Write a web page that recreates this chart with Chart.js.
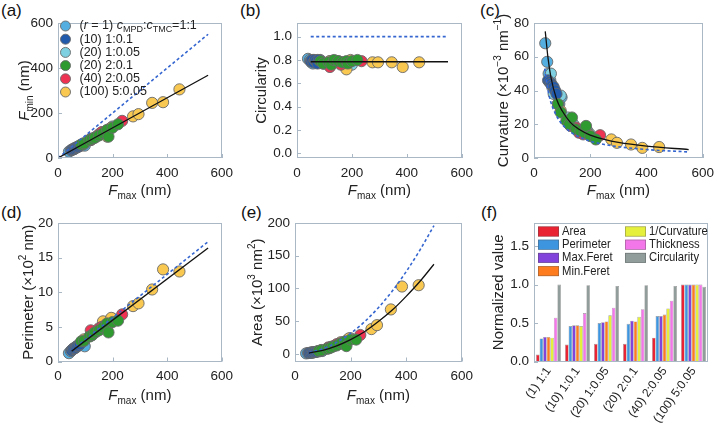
<!DOCTYPE html>
<html><head><meta charset="utf-8">
<script src="https://cdn.jsdelivr.net/npm/chart.js@4.4.0/dist/chart.umd.min.js"></script>
<style>
html,body{margin:0;padding:0;background:#fff;}
body{width:721px;height:423px;position:relative;overflow:hidden;font-family:"Liberation Sans",Arial,sans-serif;}
canvas{position:absolute;}
.lab{position:absolute;font-size:17px;color:#111;line-height:20px;}
</style></head><body>
<div class="lab" style="left:1px;top:1px">(a)</div>
<div class="lab" style="left:240px;top:1px">(b)</div>
<div class="lab" style="left:480px;top:1px">(c)</div>
<div class="lab" style="left:1px;top:203px">(d)</div>
<div class="lab" style="left:241px;top:203px">(e)</div>
<div class="lab" style="left:481px;top:203px">(f)</div>
<canvas id="ca"></canvas><canvas id="cb"></canvas><canvas id="cc"></canvas>
<canvas id="cd"></canvas><canvas id="ce"></canvas><canvas id="cf"></canvas>
<script>
// ---------- data ----------
const seriesLabels = ['(r = 1) cMPD:cTMC=1:1','(10) 1:0.1','(20) 1:0.05','(20) 2:0.1','(40) 2:0.05','(100) 5:0.05'];
const Fmax = [
  [40,47,52,58,65,75,90,98],
  [50,55,60,65,70,75,80],
  [60,70,85,95,120,140,190,200],
  [85,95,115,125,135,150,165,180,185,200,220],
  [120,130,150,160,175,235],
  [95,120,165,180,195,275,295,345,385,445]
];
const Fmin = [
  [28,34,38,42,46,52,58,55],
  [35,38,40,44,48,50,55],
  [42,48,55,62,80,95,130,140],
  [60,65,80,85,90,100,110,125,95,135,150],
  [80,88,105,115,120,165],
  [65,85,115,95,135,185,195,245,248,305]
];
const Circ = [
  [0.81,0.80,0.78,0.77,0.79,0.80,0.78,0.77],
  [0.79,0.80,0.78,0.80,0.79,0.77,0.80],
  [0.80,0.78,0.80,0.77,0.79,0.78,0.78,0.76],
  [0.79,0.77,0.78,0.76,0.80,0.79,0.78,0.79,0.77,0.79,0.80],
  [0.74,0.78,0.79,0.76,0.78,0.79],
  [0.78,0.79,0.78,0.72,0.80,0.78,0.78,0.78,0.74,0.78]
];
const Curv = [
  [68,57,50,46,42,38,32,36],
  [46,45,44,43,42,40,38],
  [50,38,32,37,24,20,16,14],
  [32,27,22,20,24,17,16,15,19,13,11],
  [22,19,18,15,14,13.5],
  [28,22,16,15,14,11,9,8,6,6.5]
];
const Perim = [
  [1.2,1.5,1.7,1.9,2.1,2.4,2.8,2.2],
  [1.6,1.8,1.9,2.0,2.2,2.3,2.5],
  [1.9,2.2,2.7,3.0,3.7,4.3,6.0,6.2],
  [2.9,3.0,3.6,3.8,4.2,4.5,4.9,5.5,4.2,5.7,5.9],
  [4.5,4.0,4.8,5.0,5.3,6.8],
  [3.2,3.8,5.8,4.8,6.3,8.0,8.4,10.4,13.3,13.0]
];
const Area = [
  [0.9,1.3,1.6,2.0,2.5,3.2,4.2,4.5],
  [1.5,1.8,2.1,2.5,2.9,3.2,3.6],
  [2,2.8,4.5,5.5,8.5,12,22,24],
  [4.5,5.5,8,9,11,13,16,19,12,22,22],
  [10,11,15,16,18,29],
  [6,9,18,14,24,38,44,68,103,105]
];
// fit (solid) and ideal-circle (dashed) curves
const fitA_x=[0,550], fitA_y=[0,368], idA_x=[0,550], idA_y=[0,550];
const fitB_x=[50,550], fitB_y=[0.785,0.785], idB_x=[50,550], idB_y=[1,1];
const fitC_x=[40,50,60,80,100,130,160,200,250,300,400,550], fitC_y=[75,59,48,35,28,21,17,13.5,11,9.2,7,5];
const idC_x=[38,50,60,80,100,130,160,200,250,300,400,550], idC_y=[53,40,33,25,20,15.4,12.5,10,8,6.7,5,3.6];
const fitD_x=[50,550], fitD_y=[1.5,16.4], idD_x=[50,550], idD_y=[1.6,17.3];
const fitE_x=[50,100,150,200,250,300,350,400,450,500], fitE_y=[1.4,5.5,12.4,22,34,49.5,67,88,111,137];
const idE_x=[50,100,150,200,250,300,350,400,450,500], idE_y=[2,7.9,17.7,31.4,49,70.7,96,125.7,159,196];
// bar chart (f)
const barCats = ['(1) 1:1','(10) 1:0.1','(20) 1:0.05','(20) 2:0.1','(40) 2:0.05','(100) 5:0.05'];
const barSeries = ['Area','Perimeter','Max.Feret','Min.Feret','1/Curvature','Thickness','Circularity'];
const nArea    = [0.09,0.22,0.23,0.23,0.31,1.00];
const nPerim   = [0.30,0.46,0.50,0.49,0.59,1.00];
const nMaxF    = [0.32,0.47,0.51,0.53,0.59,1.00];
const nMinF    = [0.32,0.47,0.52,0.52,0.61,1.00];
const nInvCurv = [0.31,0.46,0.60,0.58,0.69,1.00];
const nThick   = [0.57,0.63,0.70,0.68,0.79,1.00];
const nCirc    = [1.00,0.99,0.98,0.99,0.98,0.97];
const xTicks=[0,200,400,600];

// ---------- styles ----------
const seriesColors=['#55aee0','#2159ab','#7fd0e0','#2e9a30','#ee3352','#f8c851'];
const seriesOrder=[16,13,15,11,12,14]; // lower = drawn on top
const barColors=['#ea2333','#3d95e0','#8243dc','#ff7c1e','#e5f03d','#f477e9','#909d9b'];
const FONT='"Liberation Sans", Arial, sans-serif';
const FRAME='#a9b8c4';
const TXT='#222';
const DECO={};

function richFont(s,size){return (s.it?'italic ':'')+((s.sub||s.sup)?Math.round(size*0.68):size)+'px '+FONT;}
function drawRich(ctx,segs,cx,cy,size,rot,align,sx){
  ctx.save();ctx.translate(cx,cy);if(rot)ctx.rotate(-Math.PI/2);if(sx)ctx.scale(sx,1);
  let w=0;segs.forEach(s=>{ctx.font=richFont(s,size);w+=ctx.measureText(s.t).width;});
  let x=align==='left'?0:-w/2;ctx.textBaseline='middle';ctx.textAlign='left';ctx.fillStyle=TXT;
  segs.forEach(s=>{ctx.font=richFont(s,size);const dy=s.sub?size*0.32:(s.sup?-size*0.36:0);ctx.fillText(s.t,x,dy);x+=ctx.measureText(s.t).width;});
  ctx.restore();
}
const FmaxTitle=[{t:'F',it:1},{t:'max',sub:1},{t:' (nm)'}];

const decoPlugin={id:'decoPlugin',afterDraw(chart){
  const o=DECO[chart.canvas.id];if(!o)return;
  const ctx=chart.ctx,a=chart.chartArea,b=o.box;
  ctx.save();ctx.strokeStyle=FRAME;ctx.lineWidth=1;
  ctx.strokeRect(Math.round(a.left)+0.5,Math.round(a.top)+0.5,Math.round(a.right-a.left)-1,Math.round(a.bottom-a.top)-1);
  const ys=chart.scales.y;
  ys.ticks.forEach(t=>{const p=Math.round(ys.getPixelForValue(t.value))+0.5;ctx.beginPath();ctx.moveTo(a.left,p);ctx.lineTo(a.left+4,p);ctx.stroke();});
  if(chart.scales.x.type==='linear'){const xs=chart.scales.x;
    xs.ticks.forEach(t=>{const p=Math.round(xs.getPixelForValue(t.value))+0.5;ctx.beginPath();ctx.moveTo(p,a.bottom);ctx.lineTo(p,a.bottom-4);ctx.stroke();});}
  ctx.restore();
  if(o.xTitle)drawRich(ctx,o.xTitle,(a.left+a.right)/2,o.xTitleY-b.y,15,false);
  if(o.yTitle)drawRich(ctx,o.yTitle,o.yTitleX-b.x,(a.top+a.bottom)/2,15,true);
  if(o.extra)o.extra(ctx);
}};
Chart.register(decoPlugin);

function place(id,box){const el=document.getElementById(id);el.width=box.w;el.height=box.h;
  el.style.left=box.x+'px';el.style.top=box.y+'px';el.style.width=box.w+'px';el.style.height=box.h+'px';return el;}

function lineDs(xs,ys,dashed){return {type:'scatter',showLine:true,order:dashed?1:0,data:xs.map((x,i)=>({x,y:ys[i]})),
  borderColor:dashed?'#3566d0':'#111',borderWidth:dashed?1.6:1.3,borderDash:dashed?[3,2.5]:[],
  pointRadius:0,tension:0.4,cubicInterpolationMode:'monotone',fill:false};}
function ptsDs(Y){return seriesLabels.map((lab,i)=>({label:lab,order:seriesOrder[i],data:Fmax[i].map((x,j)=>({x,y:Y[i][j]})),
  backgroundColor:seriesColors[i],borderColor:'rgba(105,105,105,0.9)',borderWidth:1,pointRadius:5.6}));}

function scatterPanel(id,box,plot,ymin,ymax,yt,yfmt,datasets,deco){
  const el=place(id,box);
  DECO[id]=Object.assign({box},deco);
  return new Chart(el,{type:'scatter',data:{datasets},options:{
    responsive:false,animation:false,devicePixelRatio:1,
    layout:{autoPadding:false,padding:{left:0,top:plot.t-box.y,right:box.x+box.w-plot.r,bottom:0}},
    plugins:{legend:{display:false},tooltip:{enabled:false}},
    scales:{
      x:{type:'linear',min:0,max:600,grid:{display:false,drawTicks:false},border:{display:false},
        ticks:{font:{family:FONT,size:13.5},color:TXT,padding:7,autoSkip:false,maxRotation:0},
        afterBuildTicks:s=>{s.ticks=xTicks.map(v=>({value:v}));},afterFit:s=>{s.height=box.y+box.h-plot.b;}},
      y:{type:'linear',min:ymin,max:ymax,grid:{display:false,drawTicks:false},border:{display:false},
        ticks:{font:{family:FONT,size:13.5},color:TXT,padding:5,autoSkip:false,callback:yfmt},
        afterBuildTicks:s=>{s.ticks=yt.map(v=>({value:v}));},afterFit:s=>{s.width=plot.l-box.x;}}
    }}});
}
const f0=v=>String(v), f1=v=>v.toFixed(1);

// (a)
const legendA=(ctx)=>{
  seriesLabels.forEach((lab,i)=>{const y=26+i*13.2;
    ctx.beginPath();ctx.arc(65.5,y,5,0,Math.PI*2);ctx.fillStyle=seriesColors[i];ctx.fill();
    ctx.strokeStyle='rgba(105,105,105,0.9)';ctx.lineWidth=1;ctx.stroke();
    let segs;
    if(i===0){const m=lab.match(/^\((r)( = 1\) )(c)(MPD)(:)(c)(TMC)(.*)$/);
      segs=[{t:'('},{t:m[1],it:1},{t:m[2]},{t:m[3],it:1},{t:m[4],sub:1},{t:m[5]},{t:m[6],it:1},{t:m[7],sub:1},{t:m[8]}];}
    else segs=[{t:lab}];
    drawRich(ctx,segs,79.5,y,12.5,false,'left');});
};
scatterPanel('ca',{x:0,y:0,w:240,h:200},{l:58,t:23,r:230,b:158},0,600,[0,200,400,600],f0,
  [lineDs(fitA_x,fitA_y,false),lineDs(idA_x,idA_y,true),...ptsDs(Fmin)],
  {xTitle:FmaxTitle,xTitleY:191,yTitle:[{t:'F',it:1},{t:'min',sub:1},{t:' (nm)'}],yTitleX:25,extra:legendA});
// (b)
scatterPanel('cb',{x:240,y:0,w:240,h:200},{l:297,t:23,r:468,b:158},-0.04,1.117,[0,0.2,0.4,0.6,0.8,1.0],f1,
  [lineDs(fitB_x,fitB_y,false),lineDs(idB_x,idB_y,true),...ptsDs(Circ)],
  {xTitle:FmaxTitle,xTitleY:191,yTitle:[{t:'Circularity'}],yTitleX:262});
// (c)
scatterPanel('cc',{x:480,y:0,w:241,h:200},{l:534,t:23,r:707,b:158},0,80,[0,20,40,60,80],f0,
  [lineDs(fitC_x,fitC_y,false),lineDs(idC_x,idC_y,true),...ptsDs(Curv)],
  {xTitle:FmaxTitle,xTitleY:191,yTitle:[{t:'Curvature (×10'},{t:'−3',sup:1},{t:' nm'},{t:'−1',sup:1},{t:')'}],yTitleX:504});
// (d)
scatterPanel('cd',{x:0,y:200,w:240,h:223},{l:58,t:223,r:230,b:361.5},0,20,[0,5,10,15,20],f0,
  [lineDs(fitD_x,fitD_y,false),lineDs(idD_x,idD_y,true),...ptsDs(Perim)],
  {xTitle:FmaxTitle,xTitleY:396,yTitle:[{t:'Perimeter (×10'},{t:'2',sup:1},{t:' nm)'}],yTitleX:29});
// (e)
scatterPanel('ce',{x:240,y:200,w:240,h:223},{l:295,t:223,r:468,b:361.5},-11.5,200,[0,50,100,150,200],f0,
  [lineDs(fitE_x,fitE_y,false),lineDs(idE_x,idE_y,true),...ptsDs(Area)],
  {xTitle:FmaxTitle,xTitleY:396,yTitle:[{t:'Area (×10'},{t:'3',sup:1},{t:' nm'},{t:'2',sup:1},{t:')'}],yTitleX:258});
// (f)
(function(){
  const box={x:480,y:200,w:241,h:223},plot={l:534,t:223,r:708,b:361.5};
  const el=place('cf',box);
  const vals=[nArea,nPerim,nMaxF,nMinF,nInvCurv,nThick,nCirc];
  const legendF=(ctx)=>{
    barSeries.forEach((n,i)=>{const col=i<4?0:1,row=i<4?i:i-4;
      const sx=(col?625:538)-box.x,y=231.5+row*13.2-box.y;
      ctx.fillStyle=barColors[i];ctx.fillRect(sx,y-5,21,10);
      ctx.strokeStyle='rgba(80,80,80,0.6)';ctx.lineWidth=0.6;ctx.strokeRect(sx+0.3,y-4.7,20.4,9.4);
      drawRich(ctx,[{t:n}],sx+24,y,12.8,false,'left',0.88);});
  };
  DECO['cf']={box,yTitle:[{t:'Normalized value'}],yTitleX:499,extra:legendF};
  new Chart(el,{type:'bar',data:{labels:barCats,datasets:barSeries.map((n,i)=>({label:n,data:vals[i],
      backgroundColor:barColors[i],borderColor:'rgba(70,70,70,0.55)',borderWidth:0.6,categoryPercentage:0.86,barPercentage:1}))},
    options:{responsive:false,animation:false,devicePixelRatio:1,
      layout:{autoPadding:false,padding:{left:0,top:plot.t-box.y,right:box.x+box.w-plot.r,bottom:0}},
      plugins:{legend:{display:false},tooltip:{enabled:false}},
      scales:{
        x:{grid:{display:false,drawTicks:false},border:{display:false},
          ticks:{font:{family:FONT,size:12},color:TXT,padding:3,autoSkip:false,minRotation:55,maxRotation:55},
          afterFit:s=>{s.height=box.y+box.h-plot.b;}},
        y:{min:0,max:1.8,grid:{display:false,drawTicks:false},border:{display:false},
          ticks:{font:{family:FONT,size:13.5},color:TXT,padding:5,callback:f1},
          afterBuildTicks:s=>{s.ticks=[0,0.5,1,1.5].map(v=>({value:v}));},afterFit:s=>{s.width=plot.l-box.x;}}
      }}});
})();
</script>
</body></html>
